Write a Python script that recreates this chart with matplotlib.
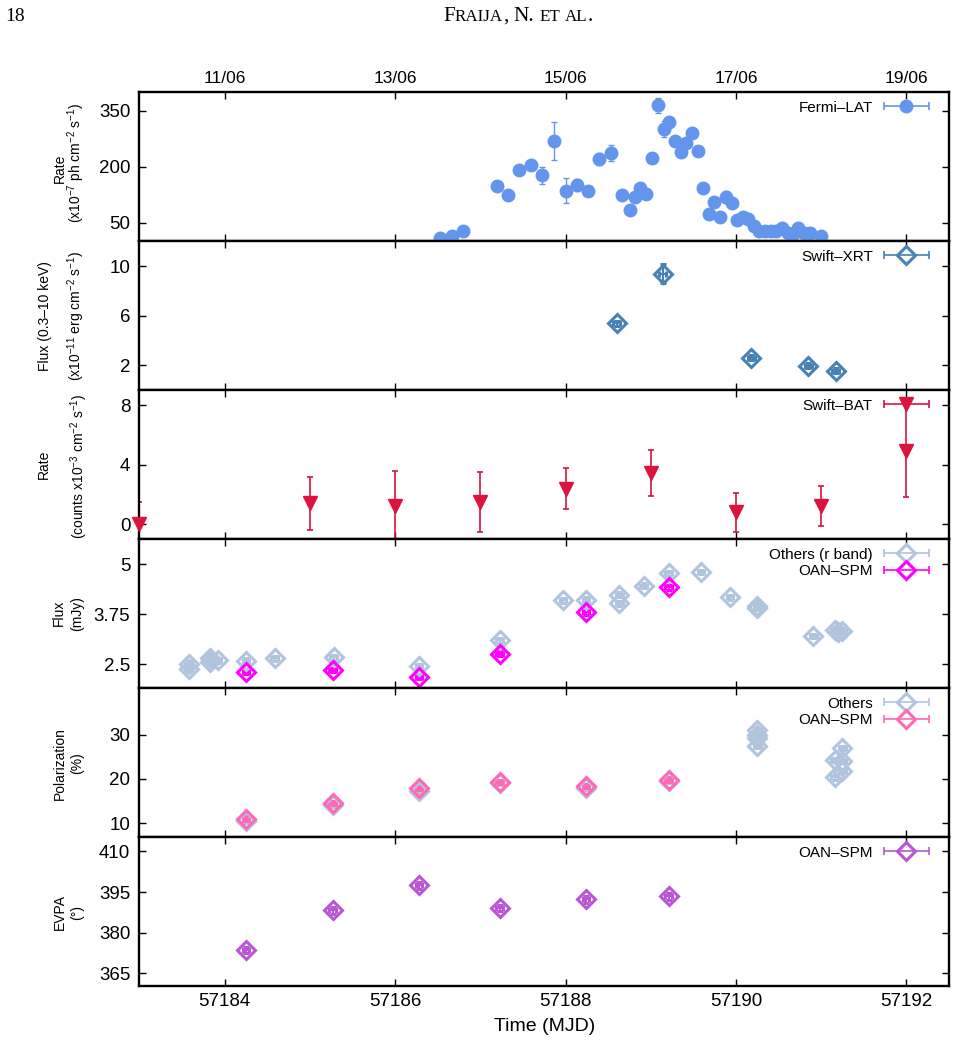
import matplotlib
matplotlib.use('Agg')
import matplotlib.pyplot as plt
from matplotlib.container import ErrorbarContainer
from matplotlib.lines import Line2D
from matplotlib.collections import LineCollection
from matplotlib.legend_handler import HandlerErrorbar

plt.rcParams['font.family'] = ['Liberation Sans', 'DejaVu Sans']
plt.rcParams['mathtext.default'] = 'regular'

# ---------------- data ----------------
# Fermi-LAT
lat_t = [57186.53, 57186.67, 57186.80, 57187.20, 57187.33, 57187.46, 57187.60, 57187.73,
         57187.86, 57188.00, 57188.13, 57188.26, 57188.39, 57188.53, 57188.66, 57188.76,
         57188.82, 57188.88, 57188.95, 57189.02, 57189.09, 57189.15, 57189.22, 57189.29,
         57189.35, 57189.41, 57189.48, 57189.55, 57189.61, 57189.68, 57189.74, 57189.81,
         57189.88, 57189.95, 57190.01, 57190.08, 57190.14, 57190.21, 57190.27, 57190.34,
         57190.41, 57190.47, 57190.54, 57190.61, 57190.67, 57190.73, 57190.80, 57190.87,
         57191.00]
lat_rate = [8, 13, 28, 148, 123, 190, 205, 177,
            268, 136, 151, 136, 220, 237, 124, 83,
            119, 142, 126, 224, 365, 302, 319, 269,
            241, 264, 291, 242, 143, 73, 105, 66,
            119, 104, 56, 64, 61, 41, 28, 28,
            28, 28, 35, 22, 19, 35, 22, 21,
            15]
lat_err = [4, 5, 8, 8, 7, 8, 10, 22,
           51, 34, 15, 8, 16, 21, 8, 8,
           8, 8, 8, 8, 20, 22, 16, 8,
           8, 8, 8, 8, 6, 6, 8, 6,
           15, 8, 5, 5, 5, 5, 4, 4,
           4, 4, 4, 4, 4, 4, 4, 4,
           4]

# Swift-XRT
xrt_t = [57188.60, 57189.14, 57190.18, 57190.85, 57191.17]
xrt_flux = [5.4, 9.4, 2.6, 1.97, 1.56]
xrt_err = [0.2, 0.8, 0.2, 0.2, 0.2]
xrt_terr = [0.04, 0.04, 0.04, 0.04, 0.04]

# Swift-BAT
bat_t = [57183, 57185, 57186, 57187, 57188, 57189, 57190, 57191, 57192]
bat_rate = [0.0, 1.4, 1.2, 1.5, 2.4, 3.45, 0.8, 1.2, 4.9]
bat_err = [1.5, 1.8, 2.4, 2.0, 1.4, 1.55, 1.3, 1.35, 3.1]

# Optical flux, others (r band)
oth_t = [57183.58, 57183.58, 57183.83, 57183.92, 57183.83, 57184.25, 57184.59, 57185.28,
         57186.28, 57187.23, 57187.97, 57188.24, 57188.63, 57188.63, 57188.92, 57189.21,
         57189.59, 57189.93, 57190.25, 57190.25, 57191.16, 57191.25, 57191.20, 57190.91]
oth_flux = [2.52, 2.38, 2.65, 2.60, 2.55, 2.59, 2.65, 2.68,
            2.46, 3.10, 4.10, 4.12, 4.24, 4.03, 4.47, 4.78,
            4.81, 4.18, 3.97, 3.92, 3.37, 3.34, 3.30, 3.21]
oth_ferr = [0.06, 0.06, 0.06, 0.06, 0.06, 0.06, 0.06, 0.06,
            0.06, 0.06, 0.06, 0.06, 0.06, 0.06, 0.06, 0.06,
            0.06, 0.06, 0.06, 0.06, 0.06, 0.06, 0.06, 0.06]

# Optical flux, OAN-SPM
oan_t = [57184.25, 57185.27, 57186.28, 57187.23, 57188.24, 57189.21]
oan_flux = [2.31, 2.36, 2.19, 2.77, 3.80, 4.43]
oan_ferr = [0.06, 0.06, 0.06, 0.06, 0.06, 0.06]

# Polarization
oth_pt = [57184.25, 57185.27, 57186.28, 57187.23, 57188.24, 57189.21,
          57190.25, 57190.25, 57190.25, 57190.25,
          57191.16, 57191.25, 57191.25, 57191.25, 57191.16]
oth_pol = [10.5, 14.1, 17.3, 19.0, 18.0, 19.5,
           31.0, 30.0, 29.2, 27.4,
           24.2, 27.0, 24.0, 21.8, 20.3]
oth_perr = [0.5, 0.5, 0.5, 0.5, 0.5, 0.5,
            0.5, 0.5, 0.5, 0.5,
            0.5, 0.5, 0.5, 0.5, 0.5]
oan_pol = [11.0, 14.5, 17.9, 19.25, 18.4, 19.8]
oan_perr = [0.5, 0.5, 0.5, 0.5, 0.5, 0.5]

# EVPA
oan_evpa = [373.6, 388.2, 397.5, 389.1, 392.3, 393.4]
oan_eerr = [1.2, 1.2, 1.2, 1.2, 1.2, 1.2]

opt_terr = 0.04

mjd_ticks = [57184, 57186, 57188, 57190, 57192]
date_labels = ['11/06', '13/06', '15/06', '17/06', '19/06']

# ---------------- colours ----------------
C_LAT = '#6495ED'
C_XRT = '#4682B4'
C_BAT = '#DC143C'
C_OTH = '#B0C4DE'
C_OANF = '#FF00FF'
C_OANP = '#FF69B4'
C_EVPA = '#BA55D3'

# ---------------- layout ----------------
W, H = 956, 1045
fig = plt.figure(figsize=(W / 100, H / 100), dpi=100)
L, R = 139.4, 949.0
TOP, PH = 92.3, 148.95

axes = []
for i in range(6):
    y_top = TOP + i * PH
    ax = fig.add_axes([L / W, 1 - (y_top + PH) / H, (R - L) / W, PH / H])
    ax.set_xlim(57183, 57192.5)
    ax.set_xticks(mjd_ticks)
    ax.tick_params(direction='in', length=5, width=1, top=True, right=True,
                   labelsize=13.5, pad=6.5)
    ax.tick_params(axis='x', labelbottom=False)
    for s in ax.spines.values():
        s.set_linewidth(1.7)
    axes.append(ax)

ax_lat, ax_xrt, ax_bat, ax_flx, ax_pol, ax_evpa = axes

LEG_FS = 11


def proxy(color, marker, ms, mfc, mew):
    line = Line2D([], [], color=color, marker=marker, ms=ms, mfc=mfc, mec=color,
                  mew=mew, ls='none')
    capl = Line2D([], [], color=color, marker='|', ms=6, mew=1.2, ls='none')
    bars = LineCollection([], colors=[color], linewidths=1.2)
    return ErrorbarContainer((line, (capl, capl), (bars,)), has_xerr=True, has_yerr=False)


def add_legend(ax, handles, labels):
    ax.legend(handles, labels, loc='upper right',
              bbox_to_anchor=((929 - L) / (R - L), 1 - 8.5 / PH),
              frameon=False, markerfirst=False, fontsize=LEG_FS,
              handlelength=2.95, handletextpad=0.72, borderpad=0, borderaxespad=0,
              labelspacing=0.17, numpoints=1,
              handler_map={ErrorbarContainer: HandlerErrorbar(xerr_size=1.47, yerr_size=0)})


# Fermi-LAT
ax_lat.errorbar(lat_t, lat_rate, yerr=lat_err, fmt='o', color=C_LAT, ms=9,
                elinewidth=1, capsize=2.5, capthick=1, zorder=3)
ax_lat.set_ylim(0, 400)
ax_lat.set_yticks([50, 200, 350])
ax_lat.set_xticklabels(date_labels)
ax_lat.tick_params(axis='x', labeltop=True, labelsize=12.5, pad=4.5)
add_legend(ax_lat, [proxy(C_LAT, 'o', 9, C_LAT, 1)], ['Fermi–LAT'])

# Swift-XRT
ax_xrt.errorbar(xrt_t, xrt_flux, yerr=xrt_err, xerr=xrt_terr, fmt='D', color=C_XRT,
                ms=9.5, mfc='none', mew=2.2, elinewidth=1.5, capsize=2.5, capthick=1.5)
ax_xrt.set_ylim(0, 12)
ax_xrt.set_yticks([2, 6, 10])
add_legend(ax_xrt, [proxy(C_XRT, 'D', 9.5, 'none', 2.2)], ['Swift–XRT'])

# Swift-BAT
ax_bat.errorbar(bat_t, bat_rate, yerr=bat_err, fmt='none', ecolor=C_BAT,
                elinewidth=1.2, capsize=2.5, capthick=1.2)
ax_bat.plot(bat_t, bat_rate, 'v', color=C_BAT, ms=10, clip_on=False, zorder=4)
ax_bat.set_ylim(-1, 9)
ax_bat.set_yticks([0, 4, 8])
add_legend(ax_bat, [proxy(C_BAT, 'v', 10, C_BAT, 1)], ['Swift–BAT'])

# Optical flux
ax_flx.errorbar(oth_t, oth_flux, yerr=oth_ferr, xerr=opt_terr, fmt='D', color=C_OTH,
                ms=9.5, mfc='none', mew=2.2, elinewidth=1.5, capsize=2, capthick=1.5)
ax_flx.errorbar(oan_t, oan_flux, yerr=oan_ferr, xerr=opt_terr, fmt='D', color=C_OANF,
                ms=9.5, mfc='none', mew=2.2, elinewidth=1.5, capsize=2, capthick=1.5)
ax_flx.set_ylim(1.91, 5.63)
ax_flx.set_yticks([2.5, 3.75, 5])
ax_flx.set_yticklabels(['2.5', '3.75', '5'])
add_legend(ax_flx, [proxy(C_OTH, 'D', 9.5, 'none', 2.2), proxy(C_OANF, 'D', 9.5, 'none', 2.2)],
           ['Others (r band)', 'OAN–SPM'])

# Polarization
ax_pol.errorbar(oth_pt, oth_pol, yerr=oth_perr, xerr=opt_terr, fmt='D', color=C_OTH,
                ms=9.5, mfc='none', mew=2.2, elinewidth=1.5, capsize=2, capthick=1.5)
ax_pol.errorbar(oan_t, oan_pol, yerr=oan_perr, xerr=opt_terr, fmt='D', color=C_OANP,
                ms=9.5, mfc='none', mew=2.2, elinewidth=1.5, capsize=2, capthick=1.5)
ax_pol.set_ylim(6.84, 40.5)
ax_pol.set_yticks([10, 20, 30])
add_legend(ax_pol, [proxy(C_OTH, 'D', 9.5, 'none', 2.2), proxy(C_OANP, 'D', 9.5, 'none', 2.2)],
           ['Others', 'OAN–SPM'])

# EVPA
ax_evpa.errorbar(oan_t, oan_evpa, yerr=oan_eerr, xerr=opt_terr, fmt='D', color=C_EVPA,
                 ms=9.5, mfc='none', mew=2.2, elinewidth=1.5, capsize=2, capthick=1.5)
ax_evpa.set_ylim(360.3, 415.3)
ax_evpa.set_yticks([365, 380, 395, 410])
ax_evpa.tick_params(axis='x', labelbottom=True, pad=5)
add_legend(ax_evpa, [proxy(C_EVPA, 'D', 9.5, 'none', 2.2)], ['OAN–SPM'])

# ---------------- y labels ----------------
YL_FS = 10
ylabels = [
    ('Rate', 60, 168.8), (r'(x10$^{-7}$ ph cm$^{-2}$ s$^{-1}$)', 76, 163),
    ('Flux (0.3–10 keV)', 45, 316), (r'(x10$^{-11}$ erg cm$^{-2}$ s$^{-1}$)', 76, 316),
    ('Rate', 44, 464.7), (r'(counts x10$^{-3}$ cm$^{-2}$ s$^{-1}$)', 79, 466),
    ('Flux', 59, 613), ('(mJy)', 77, 614),
    ('Polarization', 60, 764), ('(%)', 77, 763),
    ('EVPA', 60, 911.5), ('(°)', 77, 912),
]
for txt, px, py in ylabels:
    fig.text(px / W, 1 - py / H, txt, rotation=90, ha='center', va='center',
             fontsize=YL_FS)

fig.text((L + R) / 2 / W, 1 - 1026.7 / H, 'Time (MJD)', ha='center', va='center',
         fontsize=14)

# ---------------- page header ----------------
fig.text(5 / W, 1 - 21 / H, '18', fontsize=14, family='Liberation Serif',
         ha='left', va='baseline')
renderer = fig.canvas.get_renderer()
parts = [('F', 1.0), ('RAIJA', 0.8), (',', 1.0), (' ', 1.0), ('N.', 1.0), (' ', 1.0),
         ('ET', 0.8), (' ', 0.8), ('AL', 0.8), ('.', 1.0)]
base = 14.0


def measure(s, fs):
    t = fig.text(0, 0, s.replace(' ', 'n'), fontsize=fs, family='Liberation Serif')
    wpx = t.get_window_extent(renderer=renderer).width
    t.remove()
    if s == ' ':
        wpx *= 0.5
    return wpx


tot = sum(measure(s, base * k) for s, k in parts)
scale = 150.0 / tot
base *= scale
x = 443.0
for s, k in parts:
    wpx = measure(s, base * k)
    if s.strip():
        fig.text(x / W, 1 - 21 / H, s, fontsize=base * k, family='Liberation Serif',
                 ha='left', va='baseline')
    x += wpx

fig.savefig('out.png', dpi=100)
